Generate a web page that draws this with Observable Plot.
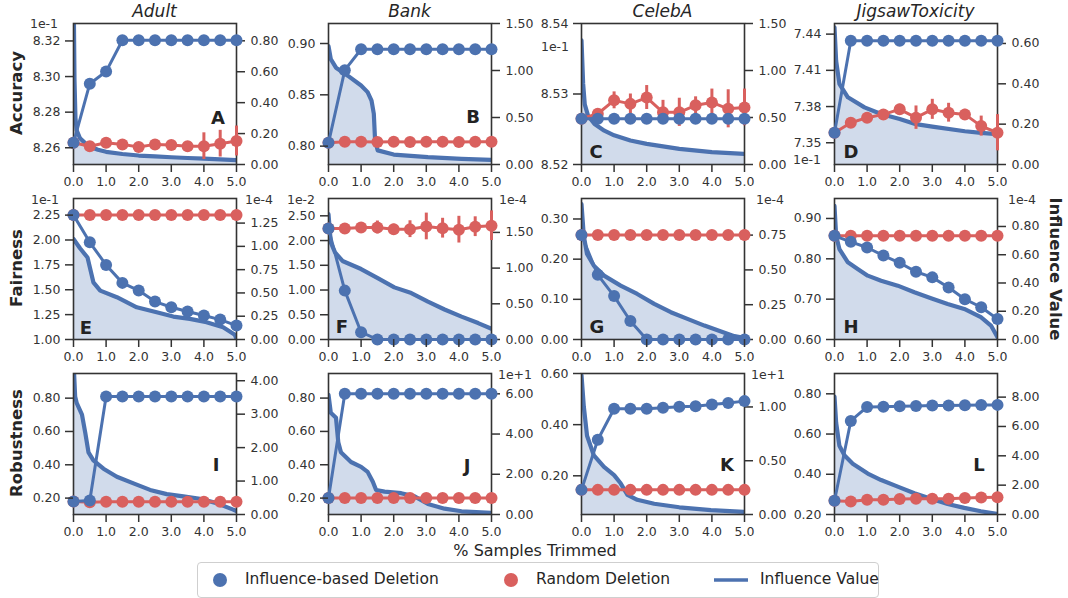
<!DOCTYPE html>
<html><head><meta charset="utf-8">
<script src="https://cdn.jsdelivr.net/npm/d3@7"></script>
<script src="https://cdn.jsdelivr.net/npm/@observablehq/plot@0.6"></script>
<style>
body{margin:0;background:#fff;}
#fig{position:relative;width:1068px;height:598px;font-family:"DejaVu Sans",sans-serif;color:#333;overflow:hidden;background:#fff;}
.abs{position:absolute;white-space:nowrap;line-height:1;}
.abs.c{transform:translate(-50%,-50%);}
#fig svg{position:absolute;}
</style></head><body><div id="fig"></div>
<script>
// ---------- shared categories / ticks ----------
const xs = [0, 0.5, 1, 1.5, 2, 2.5, 3, 3.5, 4, 4.5, 5];
const xTicks = [0, 1, 2, 3, 4, 5];
const datasets = ["Adult", "Bank", "CelebA", "JigsawToxicity"];
const metrics = ["Accuracy", "Fairness", "Robustness"];
const legendLabels = ["Influence-based Deletion", "Random Deletion", "Influence Value"];

// ---------- A: Adult / Accuracy (x1e-1) ----------
const infA = [8.2628, 8.2960, 8.3028, 8.3204, 8.3204, 8.3204, 8.3204, 8.3204, 8.3204, 8.3204, 8.3204];
const rndA = [8.2628, 8.2609, 8.2628, 8.2619, 8.2604, 8.2619, 8.2615, 8.2609, 8.2609, 8.2623, 8.2638];
const errA = [0, 0.001, 0.0012, 0.0015, 0.0012, 0.0018, 0.0015, 0.0023, 0.0075, 0.0075, 0.0084];
const curveA = [[0,1.2],[0.03,0.55],[0.06,0.3],[0.1,0.22],[0.2,0.17],[0.35,0.14],[0.5,0.115],[0.75,0.095],[1,0.082],[1.5,0.068],[2,0.058],[2.5,0.052],[3,0.047],[3.5,0.042],[4,0.038],[4.5,0.033],[5,0.028]];
const yTicksA = [8.26, 8.28, 8.30, 8.32], rTicksA = [0, 0.2, 0.4, 0.6, 0.8];

// ---------- B: Bank / Accuracy ----------
const infB = [0.8032, 0.874, 0.8944, 0.8944, 0.8944, 0.8944, 0.8944, 0.8944, 0.8944, 0.8944, 0.8944];
const rndB = [0.8032, 0.8042, 0.8043, 0.8040, 0.8042, 0.8041, 0.8042, 0.8042, 0.8041, 0.8042, 0.8042];
const errB = [0, 0.0004, 0.0004, 0.0004, 0.0004, 0.0005, 0.0004, 0.0005, 0.0004, 0.0005, 0.0005];
const curveB = [[0,1.26],[0.07,1.12],[0.23,1.03],[0.59,0.945],[1.0,0.84],[1.2,0.77],[1.32,0.68],[1.39,0.54],[1.43,0.25],[1.51,0.15],[2.0,0.106],[3.05,0.078],[4.08,0.06],[5,0.05]];
const yTicksB = [0.80, 0.85, 0.90], rTicksB = [0, 0.5, 1.0, 1.5];

// ---------- C: CelebA / Accuracy (x1e-1) ----------
const infC = [8.5265, 8.5265, 8.5265, 8.5265, 8.5265, 8.5265, 8.5265, 8.5265, 8.5265, 8.5265, 8.5265];
const rndC = [8.5265, 8.5272, 8.5291, 8.5286, 8.5295, 8.5274, 8.5274, 8.5284, 8.5288, 8.5279, 8.5281];
const errC = [0, 0.0005, 0.0012, 0.0014, 0.0017, 0.0017, 0.002, 0.0012, 0.0019, 0.0027, 0.0026];
const curveC = [[0,1.32],[0.05,0.86],[0.1,0.64],[0.2,0.52],[0.4,0.43],[0.7,0.36],[1.0,0.31],[1.5,0.255],[2.0,0.22],[3.0,0.166],[4.0,0.131],[5.0,0.113]];
const yTicksC = [8.52, 8.53, 8.54], rTicksC = [0, 0.5, 1.0, 1.5];

// ---------- D: JigsawToxicity / Accuracy (x1e-1) ----------
const infD = [7.3583, 7.4345, 7.4345, 7.4345, 7.4345, 7.4345, 7.4345, 7.4345, 7.4345, 7.4345, 7.4345];
const rndD = [7.3583, 7.3666, 7.3708, 7.3735, 7.3777, 7.3708, 7.3777, 7.3749, 7.3735, 7.3638, 7.3583];
const errD = [0, 0.0028, 0.0042, 0.0033, 0.0042, 0.0097, 0.0083, 0.0078, 0.0042, 0.0083, 0.015];
const curveD = [[0,0.68],[0.05,0.514],[0.15,0.40],[0.41,0.333],[0.92,0.283],[1.43,0.25],[2.0,0.226],[2.5,0.20],[3.0,0.188],[4.0,0.165],[4.5,0.157],[5,0.15]];
const yTicksD = [7.35, 7.38, 7.41, 7.44], rTicksD = [0, 0.2, 0.4, 0.6];

// ---------- E: Adult / Fairness (x1e-1, right x1e-4) ----------
const infE = [2.25, 1.977, 1.749, 1.569, 1.492, 1.381, 1.324, 1.281, 1.241, 1.20, 1.14];
const rndE = [2.25, 2.25, 2.25, 2.25, 2.25, 2.25, 2.25, 2.25, 2.25, 2.25, 2.25];
const errE = [0, 0.004, 0.004, 0.004, 0.004, 0.004, 0.004, 0.004, 0.004, 0.004, 0.004];
const curveE = [[0,1.079],[0.2,0.98],[0.43,0.88],[0.61,0.614],[0.82,0.525],[1.33,0.454],[1.94,0.346],[2.55,0.293],[3.06,0.246],[3.57,0.221],[4.08,0.186],[4.59,0.132],[4.95,0.05],[5,0.007]];
const yTicksE = [1.00, 1.25, 1.50, 1.75, 2.00, 2.25], rTicksE = [0, 0.25, 0.5, 0.75, 1.0, 1.25];

// ---------- F: Bank / Fairness (x1e-2, right x1e-4) ----------
const infF = [2.245, 0.988, 0.148, 0, 0, 0, 0, 0, 0, 0, 0];
const rndF = [2.245, 2.245, 2.265, 2.265, 2.23, 2.23, 2.285, 2.25, 2.22, 2.28, 2.30];
const errF = [0, 0.05, 0.07, 0.13, 0.1, 0.17, 0.27, 0.2, 0.27, 0.2, 0.3];
const curveF = [[0,1.756],[0.07,1.36],[0.2,1.22],[0.43,1.10],[1.0,0.987],[1.51,0.86],[2.02,0.73],[2.54,0.65],[3.05,0.53],[3.56,0.42],[4.08,0.32],[4.59,0.23],[5,0.15]];
const yTicksF = [0, 0.5, 1.0, 1.5, 2.0, 2.5], rTicksF = [0, 0.5, 1.0, 1.5];

// ---------- G: CelebA / Fairness (right x1e-4) ----------
const infG = [0.260, 0.161, 0.108, 0.046, 0, 0, 0, 0, 0, 0, 0];
const rndG = [0.260, 0.260, 0.260, 0.260, 0.260, 0.260, 0.260, 0.260, 0.260, 0.260, 0.260];
const errG = [0, 0.001, 0.001, 0.001, 0.001, 0.001, 0.001, 0.001, 0.001, 0.001, 0.001];
const curveG = [[0,0.972],[0.07,0.745],[0.17,0.614],[0.38,0.53],[0.69,0.459],[1.2,0.387],[1.71,0.327],[2.23,0.256],[2.74,0.196],[3.25,0.148],[3.77,0.10],[4.28,0.057],[4.69,0.024],[5,0.01]];
const yTicksG = [0, 0.1, 0.2, 0.3], rTicksG = [0, 0.25, 0.5, 0.75];

// ---------- H: JigsawToxicity / Fairness (right x1e-4) ----------
const infH = [0.857, 0.842, 0.828, 0.808, 0.790, 0.768, 0.754, 0.729, 0.700, 0.680, 0.651];
const rndH = [0.857, 0.857, 0.857, 0.857, 0.857, 0.857, 0.857, 0.857, 0.857, 0.857, 0.857];
const errH = [0, 0.001, 0.001, 0.001, 0.001, 0.001, 0.001, 0.001, 0.001, 0.001, 0.001];
const curveH = [[0,0.946],[0.05,0.734],[0.15,0.64],[0.41,0.546],[0.71,0.499],[1.02,0.452],[1.43,0.416],[1.94,0.381],[2.45,0.334],[2.96,0.292],[3.47,0.252],[3.98,0.216],[4.49,0.158],[4.8,0.099],[5,0.016]];
const yTicksH = [0.6, 0.7, 0.8, 0.9], rTicksH = [0, 0.2, 0.4, 0.6, 0.8];

// ---------- I: Adult / Robustness ----------
const infI = [0.18, 0.185, 0.81, 0.81, 0.81, 0.81, 0.81, 0.81, 0.81, 0.81, 0.81];
const rndI = [0.18, 0.175, 0.178, 0.178, 0.178, 0.178, 0.178, 0.178, 0.178, 0.178, 0.178];
const errI = [0, 0.002, 0.002, 0.002, 0.002, 0.002, 0.002, 0.002, 0.002, 0.002, 0.002];
const curveI = [[0,4.6],[0.05,3.53],[0.1,3.33],[0.26,2.99],[0.36,2.45],[0.46,1.86],[0.61,1.62],[0.92,1.37],[1.33,1.13],[1.84,0.93],[2.35,0.735],[2.86,0.61],[3.37,0.54],[3.88,0.47],[4.39,0.34],[4.9,0.147],[5,0.098]];
const yTicksI = [0.2, 0.4, 0.6, 0.8], rTicksI = [0, 1, 2, 3, 4];

// ---------- J: Bank / Robustness (right x1e+1) ----------
const infJ = [0.20, 0.826, 0.826, 0.826, 0.826, 0.826, 0.826, 0.826, 0.826, 0.826, 0.826];
const rndJ = [0.20, 0.20, 0.20, 0.20, 0.20, 0.20, 0.20, 0.20, 0.20, 0.20, 0.20];
const errJ = [0, 0.002, 0.002, 0.002, 0.002, 0.002, 0.002, 0.002, 0.002, 0.002, 0.002];
const curveJ = [[0,5.95],[0.07,5.06],[0.23,4.81],[0.3,3.59],[0.38,3.10],[0.69,2.61],[1.0,2.37],[1.2,2.12],[1.36,1.63],[1.46,1.22],[1.72,1.14],[2.23,1.06],[2.64,0.90],[3.05,0.52],[3.56,0.29],[4.08,0.16],[5,0.08]];
const yTicksJ = [0.2, 0.4, 0.6, 0.8], rTicksJ = [0, 2, 4, 6];

// ---------- K: CelebA / Robustness (right x1e+1) ----------
const infK = [0.145, 0.341, 0.462, 0.462, 0.462, 0.466, 0.470, 0.472, 0.479, 0.485, 0.492];
const rndK = [0.145, 0.145, 0.145, 0.145, 0.145, 0.145, 0.145, 0.145, 0.145, 0.145, 0.145];
const errK = [0, 0.002, 0.002, 0.002, 0.002, 0.002, 0.002, 0.002, 0.002, 0.002, 0.002];
const curveK = [[0,1.296],[0.07,1.006],[0.17,0.732],[0.38,0.549],[0.69,0.442],[1.0,0.366],[1.2,0.29],[1.41,0.183],[1.71,0.137],[2.23,0.10],[3.0,0.067],[3.97,0.04],[5,0.024]];
const yTicksK = [0.2, 0.4, 0.6], rTicksK = [0, 0.5, 1.0];

// ---------- L: JigsawToxicity / Robustness ----------
const infL = [0.2685, 0.665, 0.735, 0.736, 0.738, 0.740, 0.742, 0.742, 0.743, 0.744, 0.745];
const rndL = [0.2685, 0.265, 0.273, 0.273, 0.277, 0.278, 0.278, 0.278, 0.282, 0.285, 0.286];
const errL = [0, 0.003, 0.003, 0.003, 0.003, 0.003, 0.003, 0.003, 0.003, 0.003, 0.003];
const curveL = [[0,8.04],[0.05,6.26],[0.15,4.69],[0.31,4.02],[0.56,3.46],[1.02,2.79],[1.43,2.35],[1.94,1.90],[2.45,1.45],[2.96,1.07],[3.47,0.72],[3.98,0.45],[4.49,0.22],[5,0.045]];
const yTicksL = [0.2, 0.4, 0.6, 0.8], rTicksL = [0, 2, 4, 6, 8];

// ---------- panel table built from the arrays ----------
const panels = [
  {id:"A", col:0, row:0, inf:infA, rnd:rndA, err:errA, curve:curveA, yDom:[8.2506, 8.3298], yTicks:yTicksA, rDom:[0, 0.912], rTicks:rTicksA, letter:[145, 95]},
  {id:"B", col:1, row:0, inf:infB, rnd:rndB, err:errB, curve:curveB, yDom:[0.7821, 0.9195], yTicks:yTicksB, rDom:[0, 1.5], rTicks:rTicksB, letter:[145, 94]},
  {id:"C", col:2, row:0, inf:infC, rnd:rndC, err:errC, curve:curveC, yDom:[8.52, 8.54], yTicks:yTicksC, rDom:[0, 1.5], rTicks:rTicksC, letter:[15, 129]},
  {id:"D", col:3, row:0, inf:infD, rnd:rndD, err:errD, curve:curveD, yDom:[7.332, 7.4488], yTicks:yTicksD, rDom:[0, 0.699], rTicks:rTicksD, letter:[17, 129]},
  {id:"E", col:0, row:1, inf:infE, rnd:rndE, err:errE, curve:curveE, yDom:[1.0, 2.417], yTicks:yTicksE, rDom:[0, 1.514], rTicks:rTicksE, letter:[13, 130]},
  {id:"F", col:1, row:1, inf:infF, rnd:rndF, err:errF, curve:curveF, yDom:[0, 2.85], yTicks:yTicksF, rDom:[0, 1.975], rTicks:rTicksF, letter:[14, 129]},
  {id:"G", col:2, row:1, inf:infG, rnd:rndG, err:errG, curve:curveG, yDom:[0, 0.351], yTicks:yTicksG, rDom:[0, 1.013], rTicks:rTicksG, letter:[16, 129]},
  {id:"H", col:3, row:1, inf:infH, rnd:rndH, err:errH, curve:curveH, yDom:[0.6, 0.9495], yTicks:yTicksH, rDom:[0, 0.998], rTicks:rTicksH, letter:[17, 129]},
  {id:"I", col:0, row:2, inf:infI, rnd:rndI, err:errI, curve:curveI, yDom:[0.1016, 0.948], yTicks:yTicksI, rDom:[0, 4.216], rTicks:rTicksI, letter:[143, 92]},
  {id:"J", col:1, row:2, inf:infJ, rnd:rndJ, err:errJ, curve:curveJ, yDom:[0.1016, 0.9475], yTicks:yTicksJ, rDom:[0, 7.01], rTicks:rTicksJ, letter:[139, 93]},
  {id:"K", col:2, row:2, inf:infK, rnd:rndK, err:errK, curve:curveK, yDom:[0.0487, 0.60], yTicks:yTicksK, rDom:[0, 1.311], rTicks:rTicksK, letter:[146, 92]},
  {id:"L", col:3, row:2, inf:infL, rnd:rndL, err:errL, curve:curveL, yDom:[0.20, 0.901], yTicks:yTicksL, rDom:[0, 9.61], rTicks:rTicksL, letter:[145, 92]}
];
// offset ("scientific") texts
const offsetTexts = [
  ["1e-1", 44, 24], ["1e-1", 555, 47], ["1e-1", 807, 160],
  ["1e-1", 45, 200], ["1e-4", 259, 200], ["1e-2", 301, 200], ["1e-4", 513, 200],
  ["1e-4", 770, 200], ["1e-4", 1022, 200], ["1e+1", 515, 375], ["1e+1", 768, 375]
];

// ---------- layout ----------
const fig = document.getElementById("fig");
const FW = 163, FH = 141, ML = 55, MT = 30, MR = 60, MB = 30;
const colL = [73, 328, 581, 834], rowT = [22.5, 197.5, 372.5];
const BLUE = "#4c72b0", RED = "#d9605e", INK = "#333";

function addText(txt, x, y, css) {
  const d = document.createElement("div");
  d.className = "abs c";
  d.textContent = txt;
  d.style.left = x + "px"; d.style.top = y + "px";
  Object.assign(d.style, css || {});
  fig.appendChild(d);
  return d;
}
function put(svg, x, y) { svg.style.left = x + "px"; svg.style.top = y + "px"; fig.appendChild(svg); }

const common = {
  width: FW + ML + MR, height: FH + MT + MB,
  marginLeft: ML, marginRight: MR, marginTop: MT, marginBottom: MB,
  style: {background: "transparent", fontFamily: "DejaVu Sans", fontSize: "12.5px", color: INK, overflow: "visible", maxWidth: "none"}
};

panels.forEach(p => {
  const L = colL[p.col], T = rowT[p.row];
  const pts = xs.map((x, i) => ({x, inf: p.inf[i], rnd: p.rnd[i], lo: p.rnd[i] - p.err[i], hi: p.rnd[i] + p.err[i]}));
  const curve = p.curve.map(([x, v]) => ({x, v}));

  const influence = Plot.plot({
    ...common,
    x: {domain: [0, 5], axis: null},
    y: {domain: p.rDom},
    marks: [
      Plot.areaY(curve, {x: "x", y: "v", fill: BLUE, fillOpacity: 0.26, clip: true}),
      Plot.line(curve, {x: "x", y: "v", stroke: BLUE, strokeWidth: 4.2, clip: true}),
      Plot.axisY({anchor: "right", ticks: p.rTicks, tickFormat: ".2f", tickSize: 8, tickPadding: 6, strokeWidth: 1.5, label: null})
    ]
  });
  put(influence, L - ML, T - MT);

  const metric = Plot.plot({
    ...common,
    x: {domain: [0, 5]},
    y: {domain: p.yDom},
    marks: [
      Plot.frame({stroke: INK, strokeWidth: 1.6}),
      Plot.line(pts, {x: "x", y: "rnd", stroke: RED, strokeWidth: 3}),
      Plot.ruleX(pts, {x: "x", y1: "lo", y2: "hi", stroke: RED, strokeWidth: 3}),
      Plot.dot(pts, {x: "x", y: "rnd", fill: RED, r: 6}),
      Plot.line(pts, {x: "x", y: "inf", stroke: BLUE, strokeWidth: 3}),
      Plot.dot(pts, {x: "x", y: "inf", fill: BLUE, r: 6}),
      Plot.axisX({ticks: xTicks, tickFormat: ".1f", tickSize: 8, tickPadding: 5, strokeWidth: 1.5, label: null}),
      Plot.axisY({anchor: "left", ticks: p.yTicks, tickFormat: ".2f", tickSize: 8, tickPadding: 5, strokeWidth: 1.5, label: null})
    ]
  });
  put(metric, L - ML, T - MT);

  addText(p.id, L + p.letter[0], T + p.letter[1], {fontWeight: "bold", fontSize: "18px", color: "#222"});
});

offsetTexts.forEach(([t, x, y]) => addText(t, x, y, {fontSize: "12.5px"}));

// titles, row labels, axis titles
datasets.forEach((d, i) => addText(d, colL[i] + FW / 2, 11, {fontStyle: "italic", fontSize: "17px", color: "#262626"}));
metrics.forEach((m, i) => addText(m, 17, rowT[i] + FH / 2, {fontWeight: "bold", fontSize: "16.5px", color: "#262626", transform: "translate(-50%,-50%) rotate(-90deg)"}));
addText("Influence Value", 1055, 269, {fontWeight: "bold", fontSize: "16.5px", color: "#262626", transform: "translate(-50%,-50%) rotate(90deg)"});
addText("% Samples Trimmed", 535, 551, {fontSize: "16px", color: "#262626"});

// legend
const leg = document.createElement("div");
Object.assign(leg.style, {position: "absolute", left: "197px", top: "562px", width: "680px", height: "34px", border: "1px solid #cfcfcf", borderRadius: "4px", background: "#fff"});
fig.appendChild(leg);
const ns = "http://www.w3.org/2000/svg";
function swatch(kind, color, x) {
  const s = document.createElementNS(ns, "svg");
  s.setAttribute("width", 40); s.setAttribute("height", 20);
  s.style.position = "absolute"; s.style.left = (x - 20) + "px"; s.style.top = "570px";
  if (kind === "dot") {
    const c = document.createElementNS(ns, "circle");
    c.setAttribute("cx", 20); c.setAttribute("cy", 10); c.setAttribute("r", 7); c.setAttribute("fill", color);
    s.appendChild(c);
  } else {
    const l = document.createElementNS(ns, "line");
    l.setAttribute("x1", 3); l.setAttribute("x2", 37); l.setAttribute("y1", 10); l.setAttribute("y2", 10);
    l.setAttribute("stroke", color); l.setAttribute("stroke-width", 3.5);
    s.appendChild(l);
  }
  fig.appendChild(s);
}
swatch("dot", BLUE, 220);
swatch("dot", RED, 511);
swatch("line", BLUE, 731);
[[legendLabels[0], 245], [legendLabels[1], 536], [legendLabels[2], 760]].forEach(([t, x]) => {
  const d = addText(t, x, 580, {fontSize: "15.5px", color: "#262626"});
  d.style.transform = "translate(0,-50%)";
});
</script></body></html>
